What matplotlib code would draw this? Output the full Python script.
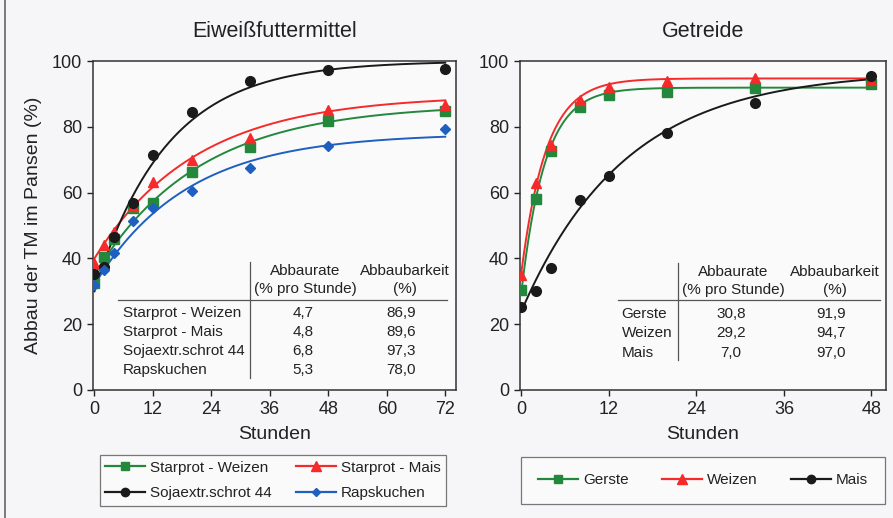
import numpy as np
import matplotlib
matplotlib.use("Agg")
import matplotlib.pyplot as plt
from matplotlib.lines import Line2D

plt.rcParams['font.family'] = ['Liberation Sans', 'DejaVu Sans']

# ---------------- data ----------------
hours_left = [0, 2, 4, 8, 12, 20, 32, 48, 72]
starprot_weizen = [32.5, 40.5, 45.8, 55.3, 56.8, 66.2, 74.0, 81.8, 84.8]
starprot_mais = [38.5, 44.0, 48.0, 56.0, 63.3, 69.9, 76.7, 85.1, 86.6]
sojaextr = [35.3, 37.3, 46.5, 56.8, 71.4, 84.6, 93.9, 97.3, 97.6]
rapskuchen = [32.0, 36.5, 41.5, 51.5, 55.2, 60.6, 67.6, 74.3, 79.3]

labels_left = ["Starprot - Weizen", "Starprot - Mais", "Sojaextr.schrot 44", "Rapskuchen"]
rate_left = ["4,7", "4,8", "6,8", "5,3"]
potential_left = ["86,9", "89,6", "97,3", "78,0"]
# fitted exponential curves y = a + (P - a) * (1 - exp(-c t))
fit_a_left = [35, 40, 30, 32]
fit_p_left = [86.9, 89.6, 100.0, 78.0]
fit_c_left = [0.047, 0.048, 0.068, 0.053]

hours_right = [0, 2, 4, 8, 12, 20, 32, 48]
gerste = [30.4, 58.0, 72.6, 86.0, 89.8, 90.6, 91.8, 93.0]
weizen = [35.0, 63.0, 74.5, 88.0, 92.0, 94.0, 94.8, 94.3]
mais = [25.3, 30.0, 37.0, 57.8, 65.0, 78.2, 87.3, 95.3]

labels_right = ["Gerste", "Weizen", "Mais"]
rate_right = ["30,8", "29,2", "7,0"]
potential_right = ["91,9", "94,7", "97,0"]
fit_a_right = [30, 36, 24]
fit_p_right = [91.9, 94.7, 97.0]
fit_c_right = [0.308, 0.292, 0.070]

x_ticks_left = [0, 12, 24, 36, 48, 60, 72]
x_ticks_right = [0, 12, 24, 36, 48]
y_ticks = [0, 20, 40, 60, 80, 100]

# ---------------- style ----------------
GREEN = '#23883c'
RED = '#f52a2a'
BLACK = '#1a1a1a'
BLUE = '#1f5fbf'
BG = '#f6f5f7'
TXT = '#222222'

W, H = 893, 518
fig = plt.figure(figsize=(W / 100, H / 100), dpi=100, facecolor=BG)

ax1 = fig.add_axes([93 / W, 1 - 390 / H, 363 / W, 329 / H])
ax2 = fig.add_axes([520 / W, 1 - 390 / H, 366 / W, 329 / H])

left_series = [starprot_weizen, starprot_mais, sojaextr, rapskuchen]
left_styles = [(GREEN, 's'), (RED, '^'), (BLACK, 'o'), (BLUE, 'D')]
right_series = [gerste, weizen, mais]
right_styles = [(GREEN, 's'), (RED, '^'), (BLACK, 'o')]

msize = {'s': 6.5, '^': 7.5, 'o': 7, 'D': 5.5}

handles_left = []
tt = np.linspace(0, 72, 300)
for vals, (col, mk), a, p, c, lab in zip(left_series, left_styles, fit_a_left,
                                         fit_p_left, fit_c_left, labels_left):
    ax1.plot(tt, a + (p - a) * (1 - np.exp(-c * tt)), color=col, lw=1.4, zorder=2)
    ax1.plot(hours_left, vals, ls='none', marker=mk, ms=msize[mk], color=col,
             mec=col, zorder=3)
    handles_left.append(Line2D([], [], color=col, lw=1.6, marker=mk,
                               ms=msize[mk] - 1, mec=col, label=lab))

handles_right = []
tt = np.linspace(0, 48, 300)
for vals, (col, mk), a, p, c, lab in zip(right_series, right_styles, fit_a_right,
                                         fit_p_right, fit_c_right, labels_right):
    ax2.plot(tt, a + (p - a) * (1 - np.exp(-c * tt)), color=col, lw=1.4, zorder=2)
    ax2.plot(hours_right, vals, ls='none', marker=mk, ms=msize[mk], color=col,
             mec=col, zorder=3)
    handles_right.append(Line2D([], [], color=col, lw=1.6, marker=mk,
                                ms=msize[mk] - 1, mec=col, label=lab))

for ax, xt, xl in [(ax1, x_ticks_left, (-0.3, 74.2)), (ax2, x_ticks_right, (-0.2, 50))]:
    ax.set_facecolor('#fafafb')
    ax.set_xlim(*xl)
    ax.set_ylim(0, 100)
    ax.set_xticks(xt)
    ax.set_yticks(y_ticks)
    ax.tick_params(direction='out', length=4, width=1, pad=4, labelsize=13,
                   colors=TXT)
    for s in ax.spines.values():
        s.set_linewidth(1.1)
        s.set_color('#333333')
    ax.set_xlabel("Stunden", fontsize=14, color=TXT, labelpad=6)

ax1.set_ylabel("Abbau der TM im Pansen (%)", fontsize=14, color=TXT, labelpad=7)
ax1.set_title("Eiweißfuttermittel", fontsize=15.5, color=TXT, pad=17)
ax2.set_title("Getreide", fontsize=15.5, color=TXT, pad=17)

# ---------------- tables ----------------
TFS = 11


def draw_table(ax, vx, vy0, vy1, hy, hx0, hx1, c1, c2, head_y1, head_y2,
               row_x, row_ys, names, rates, pots):
    ax.plot([vx, vx], [vy0, vy1], transform=ax.transAxes, color='#555555',
            lw=0.9, clip_on=False)
    ax.plot([hx0, hx1], [hy, hy], transform=ax.transAxes, color='#555555',
            lw=0.9, clip_on=False)
    ax.text(c1, head_y1, "Abbaurate", transform=ax.transAxes, ha='center',
            va='center', fontsize=TFS, color=TXT)
    ax.text(c1, head_y2, "(% pro Stunde)", transform=ax.transAxes, ha='center',
            va='center', fontsize=TFS, color=TXT)
    ax.text(c2, head_y1, "Abbaubarkeit", transform=ax.transAxes, ha='center',
            va='center', fontsize=TFS, color=TXT)
    ax.text(c2, head_y2, "(%)", transform=ax.transAxes, ha='center',
            va='center', fontsize=TFS, color=TXT)
    for y, n, r, p in zip(row_ys, names, rates, pots):
        ax.text(row_x, y, n, transform=ax.transAxes, ha='left', va='center',
                fontsize=TFS, color=TXT)
        ax.text(c1 - 0.006, y, r, transform=ax.transAxes, ha='center',
                va='center', fontsize=TFS, color=TXT)
        ax.text(c2 - 0.01, y, p, transform=ax.transAxes, ha='center',
                va='center', fontsize=TFS, color=TXT)


draw_table(ax1, 0.4325, 0.389, 0.0365, 0.2736, 0.0689, 0.975,
           0.584, 0.8595, 0.362, 0.307, 0.0826,
           [0.234, 0.176, 0.1185, 0.061], labels_left, rate_left, potential_left)
draw_table(ax2, 0.4317, 0.386, 0.091, 0.2736, 0.2678, 0.9836,
           0.582, 0.8607, 0.3587, 0.304, 0.2779,
           [0.231, 0.1733, 0.1125], labels_right, rate_right, potential_right)

# ---------------- legends ----------------
order = [0, 2, 1, 3]
leg1 = fig.legend([handles_left[i] for i in order],
                  [labels_left[i] for i in order],
                  loc='center', bbox_to_anchor=(100 / W, 1 - 506 / H, 346 / W, 51 / H),
                  bbox_transform=fig.transFigure, mode='expand', ncol=2,
                  fontsize=11, handlelength=2.6, handletextpad=0.35,
                  labelspacing=0.75, borderpad=0.35, borderaxespad=0,
                  numpoints=1, fancybox=False, framealpha=1, facecolor='#fafafb',
                  edgecolor='#777777')
leg1.get_frame().set_linewidth(0.9)
for t in leg1.get_texts():
    t.set_color(TXT)

leg2 = fig.legend(handles_right, labels_right,
                  loc='center', bbox_to_anchor=(521 / W, 1 - 506 / H, 364 / W, 51 / H),
                  bbox_transform=fig.transFigure, mode='expand', ncol=3,
                  fontsize=11, handlelength=2.6, handletextpad=0.35,
                  borderpad=1.1, borderaxespad=0,
                  numpoints=1, fancybox=False, framealpha=1, facecolor='#fafafb',
                  edgecolor='#777777')
leg2.get_frame().set_linewidth(0.9)
for t in leg2.get_texts():
    t.set_color(TXT)

# left border of the original frame
fig.add_artist(Line2D([5 / W, 5 / W], [0, 1], transform=fig.transFigure,
                      color='#666666', lw=1.2))

fig.savefig("out.png", dpi=100, facecolor=BG)
